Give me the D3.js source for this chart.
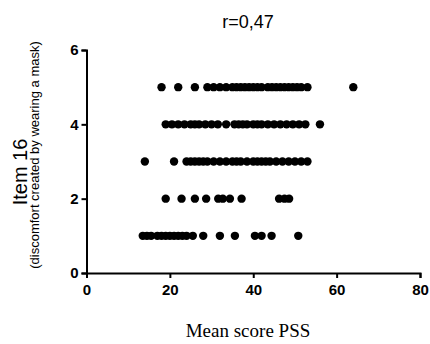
<!DOCTYPE html>
<html>
<head>
<meta charset="utf-8">
<script src="https://cdn.jsdelivr.net/npm/d3@7"></script>
<style>
body { margin: 0; background: #fff; }
.axis path, .axis line { stroke: #000; stroke-width: 2; }
.axis text { font-family: "Liberation Sans", Arial, sans-serif; font-weight: bold; font-size: 15px; fill: #000; }
</style>
</head>
<body>
<svg id="chart" width="430" height="344"></svg>
<script>
// PSS mean scores for each answer level of item 16
var score1 = [13.5, 14.5, 15.5, 17, 18, 19, 20, 21, 22, 23, 24, 25.5, 28, 32, 35.6, 40.4, 42, 44.4, 50.8];
var score2 = [19, 22.8, 26, 28.7, 31.6, 32.7, 34.4, 37.2, 46.2, 47.5, 48.6];
var score3 = [14, 21, 24, 25, 26, 27, 28, 29, 30.5, 32, 33.5, 35, 36, 37, 38.5, 40, 41, 42, 43, 44, 45.5, 47, 48.5, 50, 51.5, 53];
var score4 = [19, 20.5, 22, 23.5, 25, 26, 27, 28.5, 30, 31.5, 33.5, 35.5, 36.5, 37.5, 38.5, 40, 41, 42, 43.5, 45, 46.5, 48, 49.5, 51, 52.5, 56];
var score5 = [18, 22, 26, 29, 30.5, 32, 33.5, 35, 36, 37, 38, 39, 40, 41, 42, 43.5, 44.5, 45.5, 46.5, 47.5, 48.5, 49.5, 50.5, 51.5, 53, 64];
var levels = [1, 2, 3, 4, 5];
var xTicks = [0, 20, 40, 60, 80];
var yTicks = [0, 2, 4, 6];

function init() {
	var svg = d3.select("#chart");
	var x = d3.scaleLinear().domain([0, 80]).range([86.5, 420]);
	var y = d3.scaleLinear().domain([0, 6]).range([273, 50]);

	var points = [];
	var groups = [score1, score2, score3, score4, score5];
	for (var ii = 0; ii < groups.length; ++ii) {
		for (var jj = 0; jj < groups[ii].length; ++jj) {
			points.push({ score: groups[ii][jj], item: levels[ii] });
		}
	}

	svg.append("g")
		.attr("class", "axis")
		.attr("transform", "translate(0," + y(0) + ")")
		.call(d3.axisBottom(x).tickValues(xTicks).tickFormat(d3.format("d")).tickSizeOuter(0).tickSize(5).tickPadding(6));
	svg.append("g")
		.attr("class", "axis")
		.attr("transform", "translate(" + x(0) + ",0)")
		.call(d3.axisLeft(y).tickValues(yTicks).tickFormat(d3.format("d")).tickSizeOuter(0).tickSize(5).tickPadding(3));

	svg.selectAll("circle.dot")
		.data(points)
		.enter()
		.append("circle")
		.attr("class", "dot")
		.attr("cx", function(d) { return x(d.score); })
		.attr("cy", function(d) { return y(d.item); })
		.attr("r", 4.2)
		.style("fill", "#000");

	svg.append("text")
		.attr("x", 248)
		.attr("y", 28)
		.attr("text-anchor", "middle")
		.style("font-family", "'Liberation Sans', Arial, sans-serif")
		.style("font-size", "18px")
		.text("r=0,47");

	svg.append("text")
		.attr("transform", "translate(27,172) rotate(-90)")
		.attr("text-anchor", "middle")
		.style("font-family", "'Liberation Sans', Arial, sans-serif")
		.style("font-size", "20px")
		.text("Item 16");
	svg.append("text")
		.attr("transform", "translate(39,155) rotate(-90)")
		.attr("text-anchor", "middle")
		.style("font-family", "'Liberation Sans', Arial, sans-serif")
		.style("font-size", "13px")
		.text("(discomfort created by wearing a mask)");

	svg.append("text")
		.attr("x", 248)
		.attr("y", 337)
		.attr("text-anchor", "middle")
		.style("font-family", "'Liberation Serif', 'Times New Roman', serif")
		.style("font-size", "19px")
		.text("Mean score PSS");
}

init();
</script>
</body>
</html>
